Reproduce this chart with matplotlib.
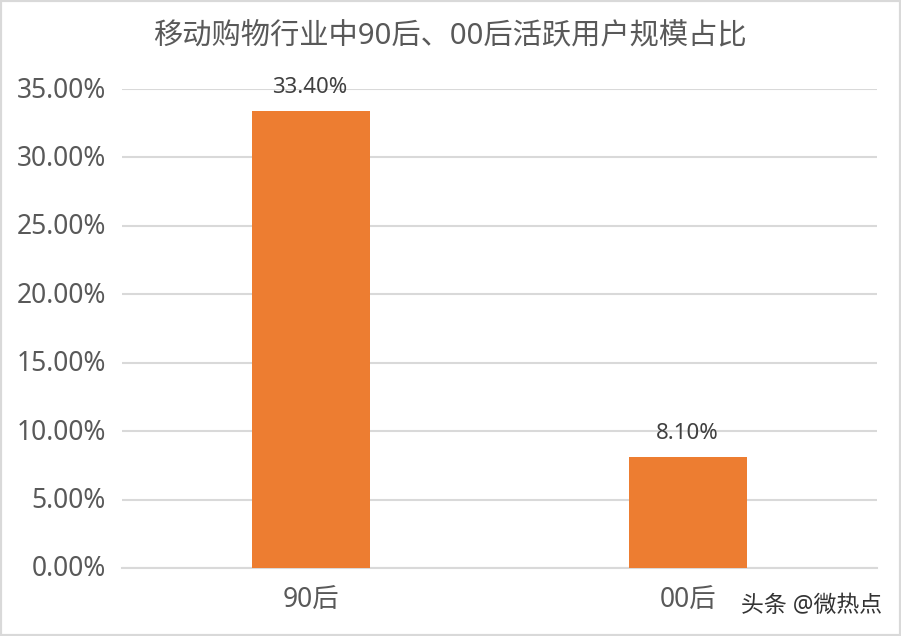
import matplotlib
matplotlib.use('Agg')
import matplotlib.pyplot as plt
from matplotlib.transforms import ScaledTranslation

plt.rcParams['font.family'] = ['Noto Sans', 'Noto Sans CJK SC', 'DejaVu Sans']

categories = ['90后', '00后']
values = [33.40, 8.10]
value_labels = ['33.40%', '8.10%']
y_ticks = [0, 5, 10, 15, 20, 25, 30, 35]
title = '移动购物行业中90后、00后活跃用户规模占比'
watermark = '头条 @微热点'

W, H = 901, 636
fig = plt.figure(figsize=(W / 100, H / 100), dpi=100, facecolor='white')

# plot area in pixels: x 122.5-877, y 568 (zero) to 89 (35%)
ax = fig.add_axes([122.5 / W, 1 - 568 / H, (877 - 122.5) / W, (568 - 89) / H])
ax.set_xlim(0, 2)
ax.set_ylim(0, 35)

bars = ax.bar([0.5, 1.5], values, width=118 / 377, color='#ED7D31', zorder=3)

for bar, lab in zip(bars, value_labels):
    ax.annotate(lab, (bar.get_x() + bar.get_width() / 2, bar.get_height()),
                xytext=(-0.7, 17), textcoords='offset points',
                ha='center', va='center', fontsize=16, color='#404040', zorder=4)

ax.set_yticks(y_ticks)
ax.set_yticklabels(['%.2f%%' % v for v in y_ticks])
ax.set_xticks([0.5, 1.5])
ax.set_xticklabels(categories)
ax.tick_params(axis='both', length=0, labelsize=19, labelcolor='#595959')
ax.tick_params(axis='y', pad=12)
ax.tick_params(axis='x', pad=13)

# nudge the y labels up a little, the font sits low
up = ScaledTranslation(0, 2 / 100, fig.dpi_scale_trans)
for lab in ax.get_yticklabels():
    lab.set_transform(lab.get_transform() + up)

ax.grid(axis='y', color='#D9D9D9', linewidth=1.5, zorder=0)
ax.set_axisbelow(True)
for side in ['top', 'right', 'left']:
    ax.spines[side].set_visible(False)
ax.spines['bottom'].set_color('#D9D9D9')
ax.spines['bottom'].set_linewidth(1.5)

fig.text(450 / W, 1 - 37 / H, title, ha='center', va='center', fontsize=21.1, color='#595959')
fig.text(812 / W, 1 - 606 / H, watermark, ha='center', va='center', fontsize=16.5, color='#333333')

# outer frame of the picture
fig.patches.append(plt.Rectangle((0, 0), 1, 1, transform=fig.transFigure, fill=False,
                                 edgecolor='#D9D9D9', linewidth=3))

fig.savefig('out.png', dpi=100)
